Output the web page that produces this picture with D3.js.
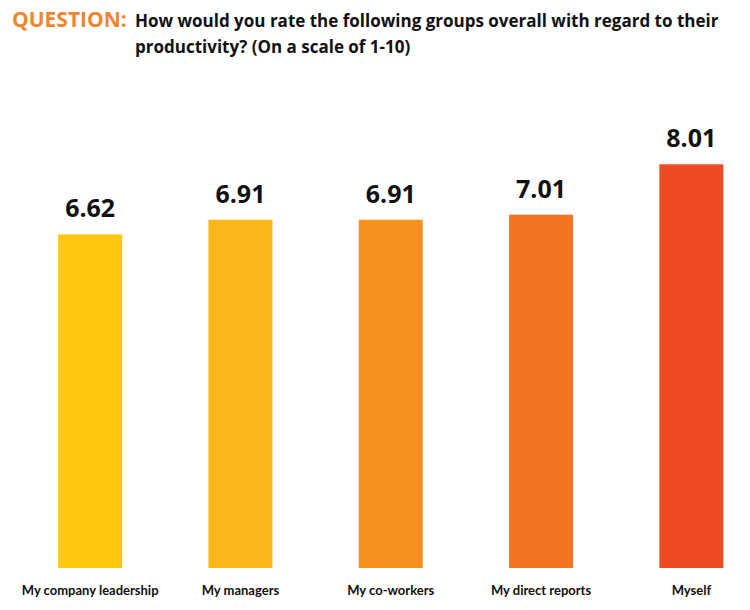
<!DOCTYPE html>
<html>
<head>
<meta charset="utf-8">
<script src="https://cdn.jsdelivr.net/npm/d3@7"></script>
<style>
  body { margin: 0; background: #fff; }
  text { font-family: "Open Sans", sans-serif; }
  text.cat { font-family: Lato, "Open Sans", sans-serif; }
</style>
</head>
<body>
<div id="chart"></div>
<script>
const width = 750;
const height = 610;

// data
const groups = ["My company leadership", "My managers", "My co-workers", "My direct reports", "Myself"];
const scores = [6.62, 6.91, 6.91, 7.01, 8.01];
const barColors = ["#fdc80f", "#fbb61a", "#f6901f", "#f37223", "#ee4a24"];

const svg = d3
	.select("#chart")
	.append("svg")
	.attr("width", width)
	.attr("height", height);

// title
svg.append("text")
	.attr("x", 12)
	.attr("y", 27)
	.attr("font-size", 21)
	.attr("font-weight", 700)
	.attr("fill", "#f0852d")
	.text("QUESTION:");

const titleLines = [
	"How would you rate the following groups overall with regard to their",
	"productivity? (On a scale of 1-10)"
];
svg.append("g")
	.selectAll("text")
	.data(titleLines)
	.enter()
	.append("text")
	.attr("x", 135)
	.attr("y", (d, i) => 27 + i * 26)
	.attr("font-size", 17)
	.attr("font-weight", 700)
	.attr("fill", "#111")
	.text(d => d);

// scales
const x = d3.scaleBand()
	.domain(groups)
	.range([15, 766.5])
	.padding(0);

const y = d3.scaleLinear()
	.domain([0, 10])
	.range([568, 64]);

const barWidth = 64;
const bars = svg.append("g").attr("class", "bars");

bars.selectAll("rect")
	.data(groups)
	.enter()
	.append("rect")
	.attr("x", d => x(d) + (x.bandwidth() - barWidth) / 2)
	.attr("y", (d, i) => y(scores[i]))
	.attr("width", barWidth)
	.attr("height", (d, i) => y(0) - y(scores[i]))
	.attr("fill", (d, i) => barColors[i]);

// value labels
bars.selectAll("text.value")
	.data(groups)
	.enter()
	.append("text")
	.attr("class", "value")
	.attr("x", d => x(d) + x.bandwidth() / 2)
	.attr("y", (d, i) => y(scores[i]) - 17)
	.attr("text-anchor", "middle")
	.attr("font-size", 25)
	.attr("font-weight", 700)
	.attr("fill", "#111")
	.text((d, i) => scores[i].toFixed(2));

// category labels
bars.selectAll("text.cat")
	.data(groups)
	.enter()
	.append("text")
	.attr("class", "cat")
	.attr("x", d => x(d) + x.bandwidth() / 2)
	.attr("y", 595)
	.attr("text-anchor", "middle")
	.attr("font-size", 13)
	.attr("font-weight", 700)
	.attr("fill", "#111")
	.text(d => d);
</script>
</body>
</html>
